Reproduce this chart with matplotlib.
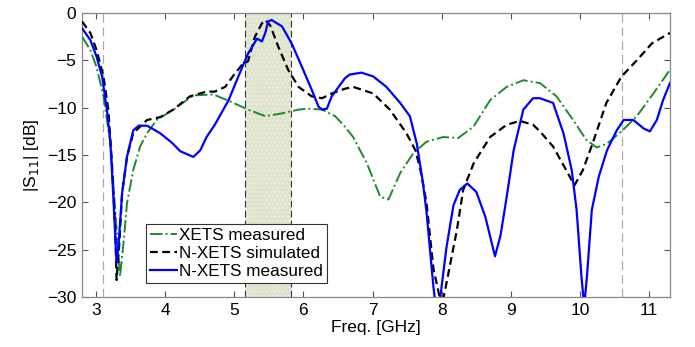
import matplotlib
matplotlib.use("Agg")
import matplotlib.pyplot as plt

plt.rcParams['font.family'] = ['Liberation Sans', 'DejaVu Sans']
plt.rcParams['hatch.linewidth'] = 0.4

# N-XETS simulated (black dashed)
sim_x = [2.8, 2.92, 3.01, 3.11, 3.18, 3.23, 3.28, 3.3, 3.34, 3.38, 3.45, 3.54, 3.74, 3.93, 4.12, 4.36, 4.6,
         4.72, 4.87, 5.01, 5.11, 5.2, 5.3, 5.4, 5.45, 5.52, 5.64, 5.78, 5.93, 6.12, 6.27, 6.41, 6.6, 6.72,
         7.01, 7.25, 7.49, 7.62, 7.69, 7.78, 7.88, 8.0, 8.07, 8.22, 8.31, 8.46, 8.7, 8.94, 9.13, 9.32, 9.42,
         9.61, 9.8, 9.92, 10.04, 10.18, 10.38, 10.6, 10.82, 11.04, 11.3]
sim_y = [-0.9, -2.1, -3.9, -6.7, -10.2, -15.5, -22.6, -28.2, -24.3, -19.0, -15.2, -12.7, -11.3, -11.0, -10.2,
         -8.8, -8.3, -8.3, -7.8, -6.4, -5.5, -5.1, -2.5, -1.1, -0.74, -1.3, -3.6, -6.0, -7.8, -8.8, -9.0,
         -8.5, -8.0, -7.8, -8.5, -10.2, -12.7, -14.5, -16.5, -20.0, -27.0, -31.0, -28.5, -22.9, -18.7, -15.9,
         -13.1, -11.8, -11.4, -11.8, -12.5, -14.1, -16.6, -18.2, -16.6, -13.8, -9.5, -6.7, -5.0, -3.2, -2.1]

# N-XETS measured (blue solid)
meas_x = [2.8, 2.92, 3.01, 3.09, 3.16, 3.21, 3.25, 3.29, 3.3, 3.33, 3.38, 3.45, 3.54, 3.62, 3.74, 3.93, 4.1,
          4.22, 4.41, 4.51, 4.6, 4.72, 4.92, 5.06, 5.2, 5.33, 5.4, 5.45, 5.49, 5.54, 5.69, 5.83, 5.98, 6.12,
          6.22, 6.27, 6.34, 6.41, 6.51, 6.6, 6.67, 6.84, 7.01, 7.2, 7.4, 7.54, 7.64, 7.73, 7.78, 7.88, 7.93,
          7.98, 8.07, 8.17, 8.26, 8.37, 8.5, 8.63, 8.77, 8.85, 8.94, 9.04, 9.18, 9.32, 9.42, 9.61, 9.76, 9.88,
          9.95, 10.02, 10.06, 10.1, 10.17, 10.27, 10.39, 10.53, 10.63, 10.77, 10.92, 11.01, 11.11, 11.2, 11.3]
meas_y = [-1.6, -2.85, -4.6, -6.7, -10.2, -13.7, -19.0, -25.0, -26.4, -24.3, -19.0, -15.2, -12.4, -11.9,
          -11.9, -12.7, -13.7, -14.6, -15.2, -14.5, -13.1, -11.8, -9.2, -6.7, -4.3, -2.7, -3.0, -2.1, -0.9,
          -0.74, -1.4, -3.2, -5.7, -8.1, -9.9, -10.2, -10.1, -8.8, -7.8, -6.9, -6.5, -6.3, -6.7, -7.8, -9.5,
          -10.9, -13.8, -18.0, -21.0, -28.9, -32.0, -30.0, -24.7, -20.3, -18.7, -18.0, -18.9, -21.5, -25.7,
          -23.5, -19.4, -14.5, -10.2, -9.0, -9.0, -9.5, -12.7, -16.6, -20.8, -27.8, -31.0, -27.8, -20.8,
          -17.3, -14.5, -12.4, -11.3, -11.3, -12.2, -12.5, -11.3, -9.2, -7.4]

# XETS measured (green dash-dot)
xets_x = [2.8, 2.92, 3.01, 3.11, 3.21, 3.28, 3.35, 3.4, 3.45, 3.54, 3.64, 3.74, 3.88, 4.12, 4.41, 4.7, 4.96,
          5.2, 5.45, 5.69, 5.93, 6.07, 6.27, 6.46, 6.6, 6.72, 6.92, 7.11, 7.23, 7.4, 7.59, 7.78, 8.02, 8.24,
          8.46, 8.7, 8.94, 9.18, 9.42, 9.66, 9.9, 10.09, 10.24, 10.39, 10.6, 10.82, 11.06, 11.3]
xets_y = [-2.5, -3.9, -5.7, -8.8, -13.7, -20.8, -27.8, -24.3, -20.1, -16.6, -14.1, -12.7, -11.3, -10.2, -8.7,
          -8.6, -9.4, -10.2, -10.9, -10.6, -10.2, -10.1, -10.2, -10.9, -12.0, -13.1, -15.9, -19.4, -19.7,
          -16.9, -14.8, -13.6, -13.1, -13.2, -12.0, -9.2, -7.8, -7.1, -7.4, -8.8, -11.3, -13.4, -14.2, -13.8,
          -12.5, -10.9, -8.5, -6.0]

band = [5.15, 5.825]
uwb = [3.1, 10.6]
x_ticks = [3, 4, 5, 6, 7, 8, 9, 10, 11]
y_ticks = [0, -5, -10, -15, -20, -25, -30]

fig = plt.figure(figsize=(6.95, 3.47), dpi=100)
ax = fig.add_axes([0.118, 0.144, 0.846, 0.8185])

ax.axvspan(band[0], band[1], facecolor='#dfe4cf', edgecolor='none', zorder=0)
ax.axvspan(band[0], band[1], facecolor='none', edgecolor='#f4f6ee', hatch='....', linewidth=0, zorder=0.5)
for b in band:
    ax.axvline(b, color='#333333', lw=0.8, ls=(0, (6, 3)), zorder=1)
for u in uwb:
    ax.axvline(u, color='#aaaaaa', lw=0.9, ls=(0, (7, 4)), zorder=1)

ax.plot(xets_x, xets_y, color='#1e8a2e', lw=1.4, ls='-.', label='XETS measured', zorder=3)
ax.plot(sim_x, sim_y, color='black', lw=1.6, ls=(0, (3.5, 2)), label='N-XETS simulated', zorder=4)
ax.plot(meas_x, meas_y, color='#0000ff', lw=1.6, ls='-', label='N-XETS measured', zorder=5)

ax.set_xlim(2.8, 11.3)
ax.set_ylim(-30, 0)
ax.set_xticks(x_ticks)
ax.set_yticks(y_ticks)
ax.tick_params(direction='in', top=True, right=True, labelsize=12.5, length=4, color='#555555', pad=4)
for s in ax.spines.values():
    s.set_color('#888888')
    s.set_linewidth(0.9)

ax.set_xlabel('Freq. [GHz]', fontsize=12.5, labelpad=2)
ax.set_ylabel('|S$_{11}$| [dB]', fontsize=12.5, labelpad=4)

leg = ax.legend(loc='lower left', bbox_to_anchor=(0.108, 0.05), fontsize=12.3, handlelength=1.6,
                handletextpad=0.1, borderpad=0.25, labelspacing=0.15, fancybox=False, framealpha=1,
                borderaxespad=0)
leg.get_frame().set_edgecolor('#333333')
leg.get_frame().set_linewidth(0.8)

fig.savefig('out.png', dpi=100)
